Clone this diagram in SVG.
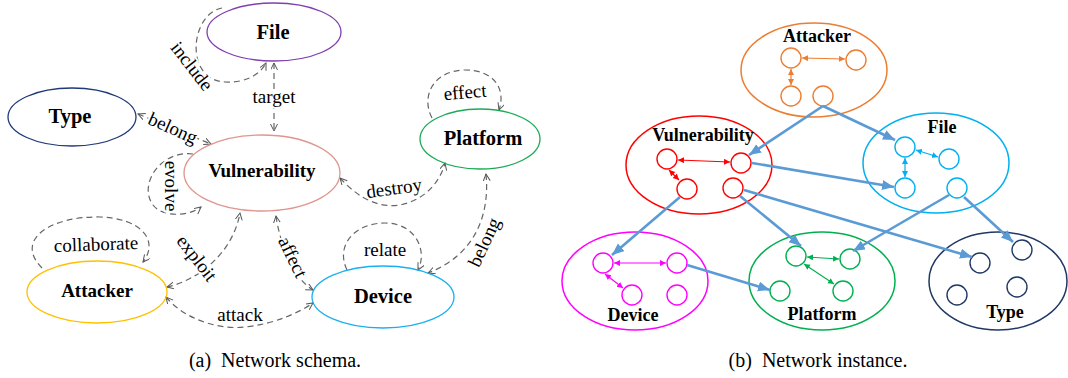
<svg xmlns="http://www.w3.org/2000/svg" width="1068" height="378" viewBox="0 0 1068 378">
<style>
text{font-family:"Liberation Serif","Times New Roman",serif;fill:#000}
.nl{font-weight:bold;font-size:20.5px;text-anchor:middle}
.nr{font-weight:bold;font-size:18px;text-anchor:middle}
.el{font-size:19px;text-anchor:middle;dominant-baseline:central;stroke:#fff;stroke-width:4;paint-order:stroke}
.cap{font-size:20px;text-anchor:middle}
.dash{fill:none;stroke:#666;stroke-width:1.2;stroke-dasharray:6,4}
.blue{fill:none;stroke:#5B9BD5;stroke-width:2.6;marker-end:url(#mb)}
.sc{fill:#fff;stroke-width:1.4}
</style>
<defs>
<marker id="ma" markerUnits="userSpaceOnUse" markerWidth="10" markerHeight="10" refX="7" refY="3.5" orient="auto-start-reverse"><path d="M0,0 L7,3.5 L0,7" fill="none" stroke="#555" stroke-width="1"/></marker>
<marker id="mb" markerUnits="userSpaceOnUse" markerWidth="14" markerHeight="12" refX="12" refY="5" orient="auto"><path d="M0,0 L12,5 L0,10 Z" fill="#5B9BD5"/></marker>
<marker id="mo" markerUnits="userSpaceOnUse" markerWidth="8" markerHeight="8" refX="6" refY="3" orient="auto-start-reverse"><path d="M0,0 L6,3 L0,6 Z" fill="#ED7D31"/></marker>
<marker id="mr" markerUnits="userSpaceOnUse" markerWidth="8" markerHeight="8" refX="6" refY="3" orient="auto-start-reverse"><path d="M0,0 L6,3 L0,6 Z" fill="#FF0000"/></marker>
<marker id="mc" markerUnits="userSpaceOnUse" markerWidth="8" markerHeight="8" refX="6" refY="3" orient="auto-start-reverse"><path d="M0,0 L6,3 L0,6 Z" fill="#00B0F0"/></marker>
<marker id="mm" markerUnits="userSpaceOnUse" markerWidth="8" markerHeight="8" refX="6" refY="3" orient="auto-start-reverse"><path d="M0,0 L6,3 L0,6 Z" fill="#FF00FF"/></marker>
<marker id="mg" markerUnits="userSpaceOnUse" markerWidth="8" markerHeight="8" refX="6" refY="3" orient="auto-start-reverse"><path d="M0,0 L6,3 L0,6 Z" fill="#00B050"/></marker>
</defs>

<!-- (a) Network schema -->
<g id="connectors-schema">
<path class="dash" d="M222,8 C190,14 184,80 225,82 C245,83 260,75 266,63" marker-end="url(#ma)"/>
<path class="dash" d="M274,63 L274,131" marker-start="url(#ma)" marker-end="url(#ma)"/>
<path class="dash" d="M138,114 L211,144" marker-start="url(#ma)" marker-end="url(#ma)"/>
<path class="dash" d="M193,154 C160,150 138,185 153,205 C163,218 190,216 201,207" marker-end="url(#ma)"/>
<path class="dash" d="M42,268 C14,240 50,216 100,217 C140,218 160,240 143,262" marker-end="url(#ma)"/>
<path class="dash" d="M167,287 C195,281 232,256 240,213" marker-start="url(#ma)" marker-end="url(#ma)"/>
<path class="dash" d="M276,216 C280,245 295,280 313,290" marker-start="url(#ma)" marker-end="url(#ma)"/>
<path class="dash" d="M166,297 C185,320 220,330 245,327 C275,324 300,312 313,303" marker-start="url(#ma)" marker-end="url(#ma)"/>
<path class="dash" d="M340,178 C360,200 380,208 400,205 C425,200 440,182 445,163" marker-start="url(#ma)" marker-end="url(#ma)"/>
<path class="dash" d="M432,118 C420,95 435,70 465,70 C495,70 506,90 499,110" marker-end="url(#ma)"/>
<path class="dash" d="M347,270 C335,245 355,223 385,223 C415,223 428,250 418,270" marker-end="url(#ma)"/>
<path class="dash" d="M486,174 C490,215 475,255 428,273" marker-start="url(#ma)" marker-end="url(#ma)"/>
<text class="el" transform="translate(192,66) rotate(52)">include</text>
<text class="el" x="274" y="96">target</text>
<text class="el" transform="translate(173,128) rotate(24)">belong</text>
<text class="el" transform="translate(171,186) rotate(90)">evolve</text>
<text class="el" transform="translate(96,244) rotate(-2)">collaborate</text>
<text class="el" transform="translate(197,258) rotate(52)">exploit</text>
<text class="el" transform="translate(293,257) rotate(64)">affect</text>
<text class="el" x="240" y="314">attack</text>
<text class="el" transform="translate(394,188) rotate(-8)">destroy</text>
<text class="el" transform="translate(465,92) rotate(-5)">effect</text>
<text class="el" x="385" y="249">relate</text>
<text class="el" transform="translate(484,242) rotate(-65)">belong</text>
</g>

<g id="s-file"><ellipse cx="274" cy="32" rx="67" ry="29" fill="none" stroke="#7F3FB0" stroke-width="1.3"/><text class="nl" x="273" y="39">File</text></g>
<g id="s-type"><ellipse cx="72" cy="117" rx="64" ry="29" fill="none" stroke="#1F3A78" stroke-width="1.3"/><text class="nl" x="70" y="123">Type</text></g>
<g id="s-vulnerability"><ellipse cx="262" cy="173" rx="78" ry="38" fill="none" stroke="#E0958E" stroke-width="1.3"/><text class="nl" x="262" y="177" style="font-size:19px">Vulnerability</text></g>
<g id="s-platform"><ellipse cx="480" cy="139" rx="60" ry="30" fill="none" stroke="#1AAA55" stroke-width="1.3"/><text class="nl" x="483" y="145">Platform</text></g>
<g id="s-device"><ellipse cx="383" cy="297" rx="71" ry="31" fill="none" stroke="#1AB0F0" stroke-width="1.3"/><text class="nl" x="383" y="303">Device</text></g>
<g id="s-attacker"><ellipse cx="97" cy="292" rx="70" ry="31" fill="none" stroke="#FFC000" stroke-width="1.3"/><text class="nl" x="97" y="297" style="font-size:19px">Attacker</text></g>

<text class="cap" x="275" y="367">(a)&#160; Network schema.</text>

<!-- (b) Network instance -->
<g id="i-attacker">
<ellipse cx="814" cy="70" rx="73" ry="47" fill="none" stroke="#ED7D31" stroke-width="1.5"/>
<text class="nr" x="817" y="42">Attacker</text>
<g stroke="#ED7D31"><circle class="sc" cx="791" cy="58" r="10"/><circle class="sc" cx="856" cy="60" r="10"/><circle class="sc" cx="791" cy="96" r="10"/><circle class="sc" cx="823" cy="96" r="10"/>
<line x1="802" y1="58" x2="845" y2="59" stroke-width="1.2" marker-start="url(#mo)" marker-end="url(#mo)"/>
<line x1="791" y1="69" x2="791" y2="85" stroke-width="1.2" marker-start="url(#mo)" marker-end="url(#mo)"/></g>
</g>
<g id="i-vulnerability">
<ellipse cx="699" cy="165" rx="73" ry="49" fill="none" stroke="#FF0000" stroke-width="1.5"/>
<text class="nr" x="703" y="141">Vulnerability</text>
<g stroke="#FF0000"><circle class="sc" cx="667" cy="159" r="10"/><circle class="sc" cx="741" cy="163" r="10"/><circle class="sc" cx="687" cy="189" r="10"/><circle class="sc" cx="733" cy="188" r="10"/>
<line x1="678" y1="160" x2="730" y2="162" stroke-width="1.2" marker-start="url(#mr)" marker-end="url(#mr)"/>
<line x1="669" y1="170" x2="679" y2="180" stroke-width="1.2" marker-start="url(#mr)" marker-end="url(#mr)"/></g>
</g>
<g id="i-file">
<ellipse cx="936" cy="163" rx="73" ry="50" fill="none" stroke="#00B0F0" stroke-width="1.5"/>
<text class="nr" x="942" y="133">File</text>
<g stroke="#00B0F0"><circle class="sc" cx="905" cy="147" r="10"/><circle class="sc" cx="949" cy="159" r="10"/><circle class="sc" cx="905" cy="188" r="10"/><circle class="sc" cx="957" cy="188" r="10"/>
<line x1="916" y1="150" x2="938" y2="157" stroke-width="1.2" marker-start="url(#mc)" marker-end="url(#mc)"/>
<line x1="905" y1="158" x2="905" y2="177" stroke-width="1.2" marker-start="url(#mc)" marker-end="url(#mc)"/></g>
</g>
<g id="i-device">
<ellipse cx="635" cy="281" rx="73" ry="49" fill="none" stroke="#FF00FF" stroke-width="1.5"/>
<text class="nr" x="633" y="321">Device</text>
<g stroke="#FF00FF"><circle class="sc" cx="603" cy="263" r="10"/><circle class="sc" cx="677" cy="263" r="10"/><circle class="sc" cx="632" cy="295" r="10"/><circle class="sc" cx="677" cy="295" r="10"/>
<line x1="614" y1="263" x2="666" y2="263" stroke-width="1.2" marker-start="url(#mm)" marker-end="url(#mm)"/>
<line x1="605" y1="274" x2="623" y2="288" stroke-width="1.2" marker-start="url(#mm)" marker-end="url(#mm)"/></g>
</g>
<g id="i-platform">
<ellipse cx="822" cy="281" rx="73" ry="49" fill="none" stroke="#00B050" stroke-width="1.5"/>
<text class="nr" x="822" y="320">Platform</text>
<g stroke="#00B050"><circle class="sc" cx="796" cy="256" r="10"/><circle class="sc" cx="850" cy="259" r="10"/><circle class="sc" cx="780" cy="291" r="10"/><circle class="sc" cx="843" cy="291" r="10"/>
<line x1="807" y1="257" x2="839" y2="259" stroke-width="1.2" marker-start="url(#mg)" marker-end="url(#mg)"/>
<line x1="804" y1="264" x2="834" y2="284" stroke-width="1.2" marker-start="url(#mg)" marker-end="url(#mg)"/></g>
</g>
<g id="i-type">
<ellipse cx="998" cy="281" rx="69" ry="49" fill="none" stroke="#1F3864" stroke-width="1.5"/>
<text class="nr" x="1005" y="318">Type</text>
<g stroke="#1F3864"><circle class="sc" cx="980" cy="263" r="10"/><circle class="sc" cx="1022" cy="250" r="10"/><circle class="sc" cx="957" cy="295" r="10"/><circle class="sc" cx="1017" cy="287" r="10"/></g>
</g>

<g id="connectors-instance">
<line class="blue" x1="823" y1="106" x2="749" y2="155"/>
<line class="blue" x1="823" y1="106" x2="895" y2="140"/>
<line class="blue" x1="752" y1="163" x2="894" y2="187"/>
<line class="blue" x1="744" y1="190" x2="972" y2="257"/>
<line class="blue" x1="740" y1="196" x2="801" y2="246"/>
<line class="blue" x1="680" y1="197" x2="612" y2="255"/>
<line class="blue" x1="687" y1="265" x2="770" y2="290"/>
<line class="blue" x1="949" y1="195" x2="853" y2="251"/>
<line class="blue" x1="964" y1="197" x2="1013" y2="242"/>
</g>

<text class="cap" x="818" y="367">(b)&#160; Network instance.</text>
</svg>
